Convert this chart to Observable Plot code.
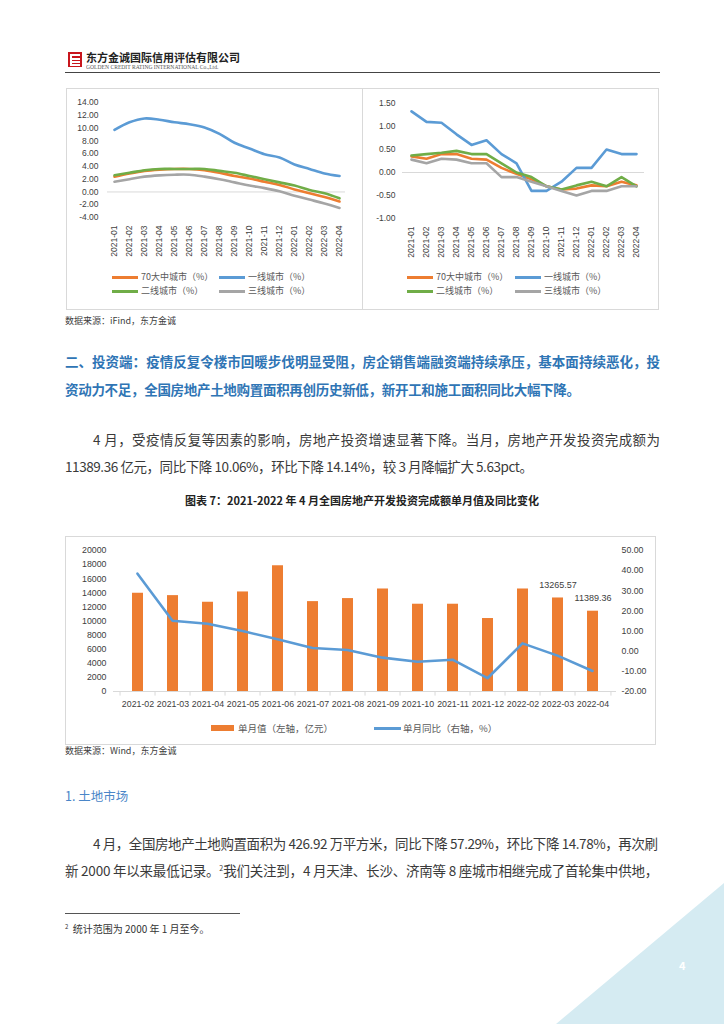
<!DOCTYPE html>
<html><head><meta charset="utf-8">
<script src="https://cdn.jsdelivr.net/npm/d3@7"></script>
<script src="https://cdn.jsdelivr.net/npm/@observablehq/plot@0.6"></script>
<style>
body{margin:0;background:#fff;}
#page{position:relative;width:724px;height:1024px;overflow:hidden;font-family:"Noto Sans CJK SC",sans-serif;color:#333;}
.box{position:absolute;border:1px solid #d9d9d9;box-sizing:border-box;}
.ln{position:absolute;white-space:nowrap;}
.lg{position:absolute;font-size:9px;color:#595959;line-height:12px;white-space:nowrap;}
.sw{position:absolute;}
.chart{position:absolute;}
.chart svg{overflow:visible;}
</style></head>
<body><div id="page"></div>
<script>
// ---------- data ----------
const months1 = ["2021-01","2021-02","2021-03","2021-04","2021-05","2021-06","2021-07","2021-08","2021-09","2021-10","2021-11","2021-12","2022-01","2022-02","2022-03","2022-04"];
const cityNames = ["70大中城市（%）","一线城市（%）","二线城市（%）","三线城市（%）"];
const cityColors = ["#ed7d31","#5b9bd5","#70ad47","#a5a5a5"];
const yoy70 = [2.4,2.9,3.3,3.5,3.6,3.6,3.4,3.0,2.5,2.1,1.6,1.1,0.4,-0.2,-0.8,-1.5];
const yoyT1 = [9.7,10.9,11.5,11.3,10.9,10.6,10.1,9.1,7.7,6.8,5.9,5.4,4.3,3.6,2.9,2.5];
const yoyT2 = [2.6,3.0,3.4,3.6,3.6,3.6,3.6,3.3,3.0,2.5,2.0,1.5,1.0,0.3,-0.2,-1.0];
const yoyT3 = [1.6,2.0,2.4,2.6,2.7,2.7,2.4,2.0,1.5,1.0,0.6,0.1,-0.6,-1.2,-1.8,-2.5];
const yoyTicks = [-4,-2,0,2,4,6,8,10,12,14];
const mom70 = [0.35,0.30,0.40,0.40,0.30,0.28,0.10,-0.03,-0.15,-0.30,-0.37,-0.35,-0.28,-0.30,-0.20,-0.28];
const momT1 = [1.33,1.10,1.08,0.83,0.60,0.70,0.40,0.20,-0.40,-0.40,-0.20,0.10,0.10,0.50,0.40,0.40];
const momT2 = [0.37,0.40,0.43,0.47,0.40,0.40,0.20,0.00,-0.10,-0.30,-0.37,-0.28,-0.20,-0.30,-0.10,-0.30];
const momT3 = [0.28,0.20,0.30,0.28,0.20,0.20,-0.10,-0.10,-0.20,-0.30,-0.40,-0.50,-0.40,-0.40,-0.30,-0.30];
const momTicks = [-1,-0.5,0,0.5,1,1.5];

const months3 = ["2021-02","2021-03","2021-04","2021-05","2021-06","2021-07","2021-08","2021-09","2021-10","2021-11","2021-12","2022-02","2022-03","2022-04"];
const investValue = [13936,13600,12660,14120,17835,12750,13180,14540,12380,12380,10350,14540,13265.57,11389.36];
const investYoY = [38.5,15.1,13.6,10.0,5.9,1.6,0.6,-3.2,-5.2,-4.2,-13.4,3.9,-2.2,-9.8];
const labeledMonths = ["2022-03","2022-04"];
const leftTicks3 = [0,2000,4000,6000,8000,10000,12000,14000,16000,18000,20000];
const rightTicks3 = [-20,-10,0,10,20,30,40,50];
const legend3 = ["单月值（左轴，亿元）","单月同比（右轴，%）"];

// ---------- page helpers ----------
const page = document.getElementById("page");
function el(tag, cls, css, html){const e=document.createElement(tag); if(cls) e.className=cls; Object.assign(e.style, css||{}); if(html!=null) e.innerHTML=html; page.appendChild(e); return e;}
function textLine(txt, x, cy, size, opts={}){
  const lh = size*1.4;
  const e = el("div","ln",{left:x+"px",top:(cy-lh/2)+"px",fontSize:size+"px",lineHeight:lh+"px",color:opts.color||"#3a3a3a",fontWeight:opts.weight||"normal",fontFamily:opts.font||'"Noto Sans CJK SC",sans-serif'});
  if(opts.html) e.innerHTML = txt; else e.textContent = txt;
  if(opts.width){
    const w = e.getBoundingClientRect().width;
    const n = (e.textContent||"").length;
    const ls = (opts.width - w)/(n-1);
    e.style.letterSpacing = ls+"px";
    e.style.marginRight = (-ls)+"px";
  }
  return e;
}

// header
const logo = el("div",null,{position:"absolute",left:"68px",top:"52px",width:"14px",height:"15px",background:"#c8161d"});
logo.innerHTML = '<div style="position:absolute;left:3px;top:2px;width:9px;height:2px;background:#fff"></div><div style="position:absolute;left:3px;top:6px;width:9px;height:1.5px;background:#fff"></div><div style="position:absolute;left:3px;top:9px;width:9px;height:1.5px;background:#fff"></div><div style="position:absolute;left:3px;top:12px;width:9px;height:1.5px;background:#fff"></div><div style="position:absolute;left:2px;top:2px;width:1.5px;height:11.5px;background:#fff"></div>';
textLine("东方金诚国际信用评估有限公司", 86, 58, 11, {weight:"bold", color:"#222"});
const eng = textLine("GOLDEN CREDIT RATING INTERNATIONAL Co.,Ltd.", 86, 67, 10, {color:"#555", font:'"Liberation Serif",serif'});
eng.style.transformOrigin="0 50%"; eng.style.transform="scale(0.56)";
el("div",null,{position:"absolute",left:"65px",top:"72px",width:"595px",height:"1.3px",background:"#444"});

// top chart boxes
el("div","box",{left:"66px",top:"88px",width:"297px",height:"222px"});
el("div","box",{left:"362px",top:"88px",width:"297px",height:"222px"});

function cityChart(left, top, width, series, yDomain, yTicks, cfg){
  const marks = [Plot.ruleY([0],{stroke:"#d9d9d9",strokeWidth:1})];
  series.forEach((arr,k)=>{
    marks.push(Plot.line(months1.map((m,i)=>({m, v:arr[i]})),{x:"m",y:"v",stroke:cityColors[k],strokeWidth:2.6,curve:cfg.curve}));
  });
  const svg = Plot.plot({
    width, height:180, marginLeft:cfg.ml, marginRight:cfg.mr, marginTop:cfg.mt, marginBottom:cfg.mb,
    x:{type:"point",domain:months1,padding:cfg.pad,tickRotate:-90,tickSize:0,tickPadding:8,label:null},
    y:{domain:yDomain,ticks:yTicks,tickFormat:d=>d.toFixed(2),tickSize:0,tickPadding:cfg.tp,label:null},
    style:{fontSize:"8.5px",fontFamily:'"Liberation Sans",sans-serif',color:"#404040",background:"none"},
    marks
  });
  const d = el("div","chart",{left:left+"px",top:top+"px"}); d.appendChild(svg);
  const lx = cfg.lgx, ly=[277,291];
  cityNames.forEach((n,k)=>{
    const col = k%2, row = Math.floor(k/2);
    const x0 = lx[col];
    el("div","sw",{left:x0+"px",top:(ly[row]-1.5)+"px",width:"26px",height:"3px",background:cityColors[k]});
    const t = el("div","lg",{left:(x0+29)+"px",top:(ly[row]-6)+"px"}); t.textContent=n;
  });
}
cityChart(65, 88, 297, [yoy70,yoyT1,yoyT2,yoyT3], [-4,14], yoyTicks, {ml:42,mr:17,mt:14,mb:51,pad:0.2,tp:9,curve:"catmull-rom",lgx:[112,219]});
cityChart(362, 88, 296, [mom70,momT1,momT2,momT3], [-1,1.5], momTicks, {ml:40,mr:14,mt:15,mb:50,pad:0.42,tp:7,curve:"linear",lgx:[407,515]});

textLine("数据来源：iFind，东方金诚", 65, 321, 9, {color:"#404040"});

// heading and text
const blue = "#2f75b5";
textLine("二、投资端：疫情反复令楼市回暖步伐明显受阻，房企销售端融资端持续承压，基本面持续恶化，投", 65, 361, 13.5, {weight:"bold", color:blue, width:595});
textLine("资动力不足，全国房地产土地购置面积再创历史新低，新开工和施工面积同比大幅下降。", 65, 389, 13.5, {weight:"bold", color:blue, width:515});
textLine("4 月，受疫情反复等因素的影响，房地产投资增速显著下降。当月，房地产开发投资完成额为", 93, 439, 13.5, {width:567});
textLine("11389.36 亿元，同比下降 10.06%，环比下降 14.14%，较 3 月降幅扩大 5.63pct。", 65, 466, 13.5, {width:468});
const ttl = textLine("图表 7：2021-2022 年 4 月全国房地产开发投资完成额单月值及同比变化", 0, 501, 11, {weight:"bold", color:"#222"});
ttl.style.width="724px"; ttl.style.textAlign="center";

// chart 3
el("div","box",{left:"65px",top:"536px",width:"591px",height:"209px"});
const W3=591, H3=180, ml3=48, mr3=40, mt3=14, mb3=25;
const step3 = (W3-ml3-mr3)/months3.length;
const barData = months3.map((m,i)=>({m, v:investValue[i]}));
const lineData = months3.map((m,i)=>({m, v:investYoY[i]}));
const svgBars = Plot.plot({
  width:W3, height:H3, marginLeft:ml3, marginRight:mr3, marginTop:mt3, marginBottom:mb3,
  x:{type:"band",domain:months3,paddingInner:0.69,paddingOuter:0.345,tickSize:0,tickPadding:9,label:null},
  y:{domain:[0,20000],ticks:leftTicks3,tickFormat:d=>String(d),tickSize:0,tickPadding:7,label:null},
  style:{fontSize:"8.8px",fontFamily:'"Liberation Sans",sans-serif',color:"#404040",background:"none"},
  marks:[
    Plot.barY(barData,{x:"m",y:"v",fill:"#ed7d31"}),
    Plot.ruleY([0],{stroke:"#d9d9d9"}),
    Plot.ruleX(months3,{x:d=>d,y1:0,y2:-650,dx:-step3/2,stroke:"#d9d9d9"}),
    Plot.ruleX(months3.slice(-1),{x:d=>d,y1:0,y2:-650,dx:step3/2,stroke:"#d9d9d9"}),
    Plot.text(barData.filter(d=>labeledMonths.includes(d.m)),{x:"m",y:"v",text:d=>d.v.toFixed(2),dy:-13,fill:"#404040",fontSize:9})
  ]
});
const svgLine = Plot.plot({
  width:W3, height:H3, marginLeft:ml3, marginRight:mr3, marginTop:mt3, marginBottom:mb3,
  x:{type:"point",domain:months3,padding:0.5,axis:null},
  y:{domain:[-20,50],ticks:rightTicks3,tickFormat:d=>d.toFixed(2),axis:"right",tickSize:0,tickPadding:5,label:null},
  style:{fontSize:"8.8px",fontFamily:'"Liberation Sans",sans-serif',color:"#404040",background:"none"},
  marks:[
    Plot.line(lineData,{x:"m",y:"v",stroke:"#5b9bd5",strokeWidth:2.6})
  ]
});
const c3a = el("div","chart",{left:"65px",top:"536px"}); c3a.appendChild(svgBars);
const c3b = el("div","chart",{left:"65px",top:"536px"}); c3b.appendChild(svgLine);
el("div","sw",{left:"211px",top:"725px",width:"23px",height:"6px",background:"#ed7d31"});
el("div","lg",{left:"238px",top:"721.5px",fontSize:"9.5px"}).textContent = legend3[0];
el("div","sw",{left:"374px",top:"726.5px",width:"27px",height:"3px",background:"#5b9bd5"});
el("div","lg",{left:"403px",top:"721.5px",fontSize:"9.5px"}).textContent = legend3[1];

textLine("数据来源：Wind，东方金诚", 65, 751, 9, {color:"#404040"});
textLine("1. 土地市场", 65, 796, 12.5, {color:"#4a86c8"});
textLine("4 月，全国房地产土地购置面积为 426.92 万平方米，同比下降 57.29%，环比下降 14.78%，再次刷", 93, 843, 13.5, {width:565});
textLine('新 2000 年以来最低记录。<sup style="font-size:7px;line-height:0;letter-spacing:0">2</sup>我们关注到，4 月天津、长沙、济南等 8 座城市相继完成了首轮集中供地，', 65, 870, 13.5, {width:593, html:true});
el("div",null,{position:"absolute",left:"65px",top:"913px",width:"175px",height:"1px",background:"#555"});
textLine('<sup style="font-size:6px;line-height:0">2</sup>&nbsp;&nbsp;统计范围为 2000 年 1 月至今。', 65, 929, 10, {color:"#333", html:true});

// corner
el("div",null,{position:"absolute",left:"0",top:"0",width:"724px",height:"1024px",background:"#d5ebf2",clipPath:"polygon(724px 883px, 724px 1024px, 556px 1024px)"});
textLine("4", 679, 966, 11, {weight:"bold", color:"#fff"});
</script></body></html>
